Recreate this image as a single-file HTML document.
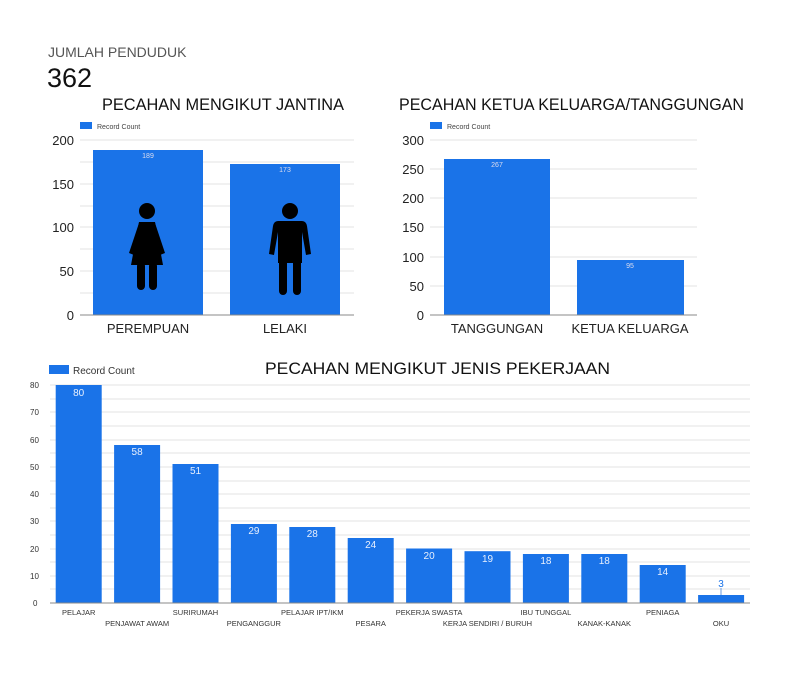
<!DOCTYPE html>
<html><head><meta charset="utf-8"><style>
body{margin:0;background:#fff;}
svg text{font-family:"Liberation Sans",sans-serif;}
</style></head><body>
<svg width="799" height="670" xmlns="http://www.w3.org/2000/svg">
<rect width="799" height="670" fill="#fff"/>
<text x="48" y="57" font-size="14" fill="#555">JUMLAH PENDUDUK</text>
<text x="47" y="87" font-size="27" fill="#111">362</text>
<text x="102" y="110" font-size="17" fill="#111" textLength="242" lengthAdjust="spacingAndGlyphs">PECAHAN MENGIKUT JANTINA</text>
<text x="399" y="110" font-size="17" fill="#111" textLength="345" lengthAdjust="spacingAndGlyphs">PECAHAN KETUA KELUARGA/TANGGUNGAN</text>
<text x="265" y="374" font-size="17" fill="#111" textLength="345" lengthAdjust="spacingAndGlyphs">PECAHAN MENGIKUT JENIS PEKERJAAN</text>

<!-- chart 1 -->
<rect x="80" y="122" width="12" height="7" fill="#1a73e8"/>
<text x="97" y="129" font-size="7" fill="#444">Record Count</text>
<g stroke="#e3e3e3" stroke-width="1">
<line x1="80" y1="140" x2="354" y2="140"/><line x1="80" y1="162" x2="354" y2="162"/><line x1="80" y1="184" x2="354" y2="184"/><line x1="80" y1="206" x2="354" y2="206"/><line x1="80" y1="227" x2="354" y2="227"/><line x1="80" y1="249" x2="354" y2="249"/><line x1="80" y1="271" x2="354" y2="271"/><line x1="80" y1="293" x2="354" y2="293"/>
</g>
<g font-size="13" fill="#222" text-anchor="end"><text x="74" y="145">200</text><text x="74" y="189">150</text><text x="74" y="232">100</text><text x="74" y="276">50</text><text x="74" y="320">0</text></g>
<rect x="93" y="150" width="110" height="165" fill="#1a73e8"/>
<rect x="230" y="164" width="110" height="151" fill="#1a73e8"/>
<line x1="80" y1="315" x2="354" y2="315" stroke="#888"/>
<text x="148" y="158" font-size="7" fill="#dde" text-anchor="middle">189</text>
<text x="285" y="172" font-size="7" fill="#dde" text-anchor="middle">173</text>
<g font-size="13" fill="#222" text-anchor="middle"><text x="148" y="333">PEREMPUAN</text><text x="285" y="333">LELAKI</text></g>
<!-- female -->
<g fill="#000">
<circle cx="147" cy="211" r="8"/>
<path d="M139 222 H155 L163 265 H131 Z"/>
<path d="M139 223 L129 253 L134 255 L143 230 Z"/>
<path d="M155 223 L165 253 L160 255 L151 230 Z"/>
<rect x="137" y="262" width="8" height="28" rx="4"/><rect x="149" y="262" width="8" height="28" rx="4"/>
</g>
<!-- male -->
<g fill="#000">
<circle cx="290" cy="211" r="8"/>
<path d="M278 221 H302 Q306 221 307 226 L311 254 L306 255 L302 232 V263 H278 V232 L274 255 L269 254 L273 226 Q274 221 278 221 Z"/>
<rect x="279" y="258" width="8" height="37" rx="4"/><rect x="293" y="258" width="8" height="37" rx="4"/>
</g>

<!-- chart 2 -->
<rect x="430" y="122" width="12" height="7" fill="#1a73e8"/>
<text x="447" y="129" font-size="7" fill="#444">Record Count</text>
<g stroke="#e3e3e3" stroke-width="1">
<line x1="430" y1="140" x2="697" y2="140"/><line x1="430" y1="169" x2="697" y2="169"/><line x1="430" y1="198" x2="697" y2="198"/><line x1="430" y1="227" x2="697" y2="227"/><line x1="430" y1="257" x2="697" y2="257"/><line x1="430" y1="286" x2="697" y2="286"/>
</g>
<g font-size="13" fill="#222" text-anchor="end"><text x="424" y="145">300</text><text x="424" y="174">250</text><text x="424" y="203">200</text><text x="424" y="232">150</text><text x="424" y="262">100</text><text x="424" y="291">50</text><text x="424" y="320">0</text></g>
<rect x="444" y="159" width="106" height="156" fill="#1a73e8"/>
<rect x="577" y="260" width="107" height="55" fill="#1a73e8"/>
<line x1="430" y1="315" x2="697" y2="315" stroke="#888"/>
<text x="497" y="167" font-size="7" fill="#dde" text-anchor="middle">267</text>
<text x="630" y="268" font-size="7" fill="#dde" text-anchor="middle">95</text>
<g font-size="13" fill="#222" text-anchor="middle"><text x="497" y="333">TANGGUNGAN</text><text x="630" y="333">KETUA KELUARGA</text></g>

<!-- chart 3 -->
<rect x="49" y="365" width="20" height="9" fill="#1a73e8"/>
<text x="73" y="374" font-size="10" fill="#333">Record Count</text>
<g stroke="#e3e3e3" stroke-width="1">
<line x1="50" y1="385" x2="750" y2="385"/><line x1="50" y1="399" x2="750" y2="399"/><line x1="50" y1="412" x2="750" y2="412"/><line x1="50" y1="426" x2="750" y2="426"/><line x1="50" y1="440" x2="750" y2="440"/><line x1="50" y1="453" x2="750" y2="453"/><line x1="50" y1="467" x2="750" y2="467"/><line x1="50" y1="481" x2="750" y2="481"/><line x1="50" y1="494" x2="750" y2="494"/><line x1="50" y1="508" x2="750" y2="508"/><line x1="50" y1="521" x2="750" y2="521"/><line x1="50" y1="535" x2="750" y2="535"/><line x1="50" y1="549" x2="750" y2="549"/><line x1="50" y1="562" x2="750" y2="562"/><line x1="50" y1="576" x2="750" y2="576"/><line x1="50" y1="589" x2="750" y2="589"/>
</g>
<g font-size="8" fill="#333"><text x="30" y="388">80</text><text x="30" y="415">70</text><text x="30" y="443">60</text><text x="30" y="470">50</text><text x="30" y="497">40</text><text x="30" y="524">30</text><text x="30" y="552">20</text><text x="30" y="579">10</text><text x="33" y="606">0</text></g>
<g fill="#1a73e8">
<rect x="55.7" y="385" width="46" height="218"/>
<rect x="114.1" y="445" width="46" height="158"/>
<rect x="172.5" y="464" width="46" height="139"/>
<rect x="230.9" y="524" width="46" height="79"/>
<rect x="289.3" y="527" width="46" height="76"/>
<rect x="347.7" y="538" width="46" height="65"/>
<rect x="406.1" y="548.5" width="46" height="54.5"/>
<rect x="464.5" y="551.2" width="46" height="51.8"/>
<rect x="522.9" y="554" width="46" height="49"/>
<rect x="581.3" y="554" width="46" height="49"/>
<rect x="639.7" y="565" width="46" height="38"/>
<rect x="698.1" y="595" width="46" height="8"/>
</g>
<line x1="50" y1="603" x2="750" y2="603" stroke="#888"/>
<line x1="721" y1="588" x2="721" y2="595" stroke="#6a9be0"/>
<g font-size="10" fill="#e8f0fe" text-anchor="middle">
<text x="78.7" y="396">80</text><text x="137.1" y="455">58</text><text x="195.5" y="474">51</text><text x="253.9" y="534">29</text><text x="312.3" y="537">28</text><text x="370.7" y="548">24</text><text x="429.1" y="559">20</text><text x="487.5" y="562">19</text><text x="545.9" y="564">18</text><text x="604.3" y="564">18</text><text x="662.7" y="575">14</text>
</g>
<text x="721" y="587" font-size="10" fill="#1a73e8" text-anchor="middle">3</text>
<g font-size="7.5" fill="#333" text-anchor="middle">
<text x="78.7" y="615">PELAJAR</text><text x="137.1" y="626">PENJAWAT AWAM</text><text x="195.5" y="615">SURIRUMAH</text><text x="253.9" y="626">PENGANGGUR</text><text x="312.3" y="615">PELAJAR IPT/IKM</text><text x="370.7" y="626">PESARA</text><text x="429.1" y="615">PEKERJA SWASTA</text><text x="487.5" y="626">KERJA SENDIRI / BURUH</text><text x="545.9" y="615">IBU TUNGGAL</text><text x="604.3" y="626">KANAK-KANAK</text><text x="662.7" y="615">PENIAGA</text><text x="721" y="626">OKU</text>
</g>
</svg>
</body></html>
